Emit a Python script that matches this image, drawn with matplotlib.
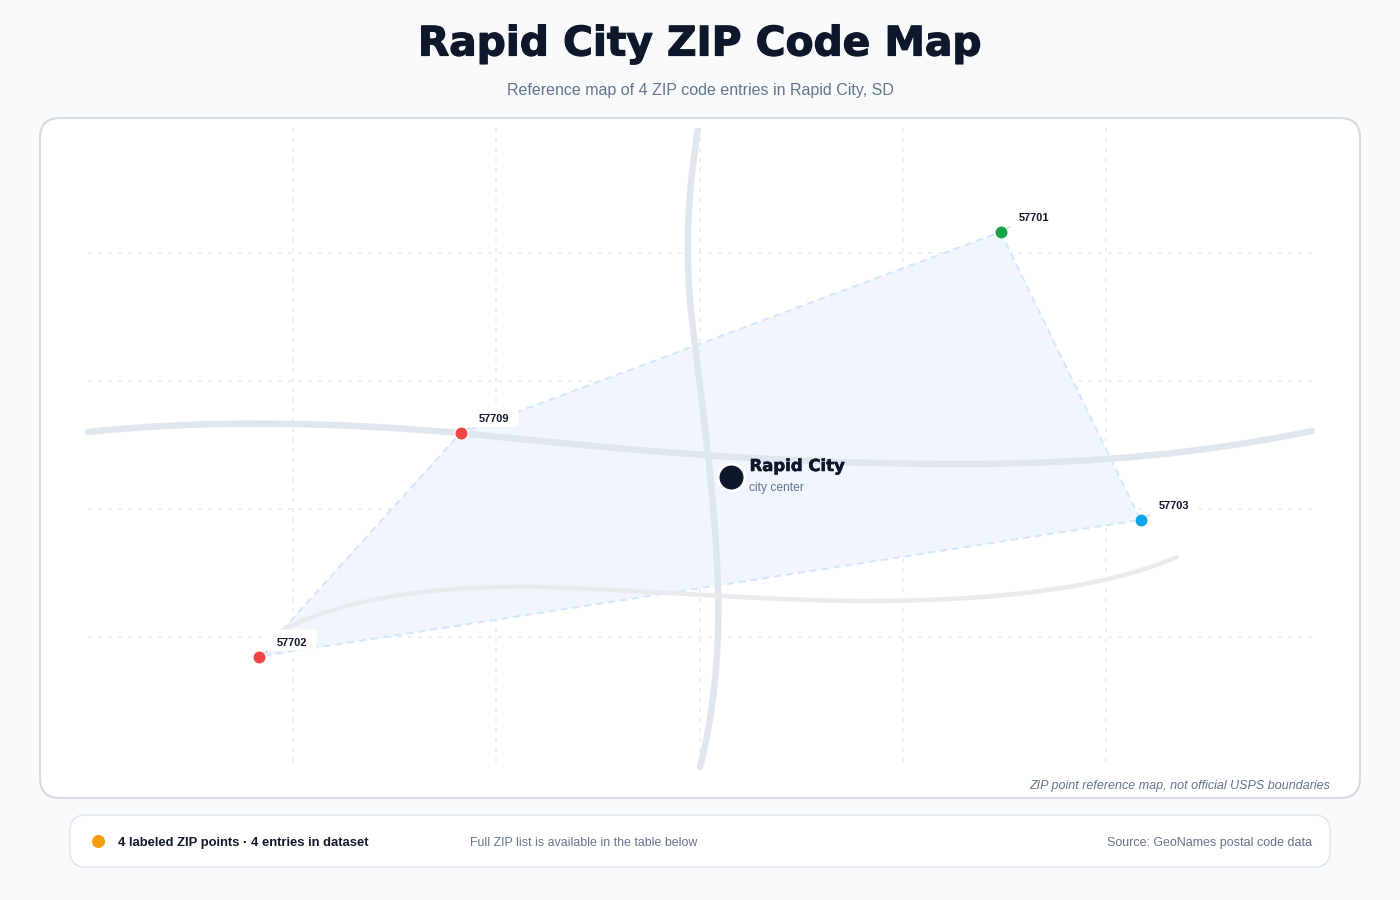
import matplotlib
matplotlib.use("Agg")
import matplotlib.pyplot as plt
import matplotlib.patheffects as pe
from matplotlib.patches import FancyBboxPatch, Polygon, PathPatch
from matplotlib.path import Path
from matplotlib.transforms import Bbox, TransformedBbox

# ZIP points (pixel position on the map)
zips = ["57701", "57703", "57702", "57709"]
zip_x = [1000.5, 1140.5, 258.5, 460.5]
zip_y = [232, 520, 656.5, 433]
zip_colors = ["#16a34a", "#0ea5e9", "#ef4444", "#ef4444"]

# Roads as bezier control points
road_main = [(88, 432), (200, 420), (330, 421), (470, 434), (600, 447), (760, 464),
             (960, 464), (1100, 464), (1210, 452), (1312, 431)]
road_north = [(699, 122), (688, 190), (684, 250), (692, 320), (700, 390), (716, 500),
              (718, 590), (720, 660), (712, 720), (700, 767)]
road_south = [(283, 630), (350, 595), (450, 585), (540, 587), (650, 590), (780, 602),
              (880, 601), (990, 600), (1100, 590), (1177, 557)]

grid_x = [293, 496, 700, 903, 1106]
grid_y = [253, 381, 509, 637]

title = "Rapid City ZIP Code Map"
subtitle = "Reference map of 4 ZIP code entries in Rapid City, SD"
center_xy = (731, 477)

plt.rcParams["font.family"] = ["Liberation Sans", "DejaVu Sans"]


def px(size):
    return size * 0.72


def road(ax, pts, color, width, z):
    codes = [Path.MOVETO] + [Path.CURVE4] * (len(pts) - 1)
    patch = PathPatch(Path(pts, codes), fill=False, edgecolor=color, linewidth=px(width),
                      capstyle="round", zorder=z)
    ax.add_patch(patch)
    return patch


fig = plt.figure(figsize=(14, 9), dpi=100, facecolor="#f8fafc")
ax = fig.add_axes([0, 0, 1, 1])
ax.set_xlim(0, 1400)
ax.set_ylim(900, 0)
ax.axis("off")

# Title
ax.text(700, 44.5, title, ha="center", va="center", fontsize=px(40.7), fontweight="bold",
        family="DejaVu Sans", color="#0f172a",
        path_effects=[pe.withStroke(linewidth=px(1.2), foreground="#0f172a")])
ax.text(700, 90, subtitle, ha="center", va="center", fontsize=px(16), color="#64748b")

# Map panel and footer
panel = FancyBboxPatch((40, 118), 1320, 680, boxstyle="round,pad=0,rounding_size=20",
                       facecolor="white", edgecolor="#d5dae3", linewidth=px(2), zorder=1)
ax.add_patch(panel)
ax.add_patch(FancyBboxPatch((70, 815), 1260, 52, boxstyle="round,pad=0,rounding_size=16",
                            facecolor="white", edgecolor="#e2e8f0", linewidth=px(1.5), zorder=1))

# Grid
for x in grid_x:
    ax.plot([x, x], [128, 767], color="#ebeff4", lw=px(2), dashes=(2, 3), zorder=2)
for y in grid_y:
    ax.plot([88, 1312], [y, y], color="#ebeff4", lw=px(2), dashes=(2, 3), zorder=2)

# ZIP polygon
ax.add_patch(Polygon(list(zip(zip_x, zip_y)), closed=True, facecolor="#f0f5fe", edgecolor="none",
                     alpha=0.9, zorder=3))
ax.add_patch(Polygon(list(zip(zip_x, zip_y)), closed=True, fill=False, edgecolor="#d3e5fc",
                     linewidth=px(2), linestyle=(0, (3.5, 2.5)), zorder=3))

# Roads
road(ax, road_main, "#dfe6ee", 6.5, 4)
north = road(ax, road_north, "#dfe6ee", 6.5, 4)
north.set_clip_box(TransformedBbox(Bbox([[0, 128], [1400, 900]]), ax.transData))
road(ax, road_south, "#e8eaee", 4.5, 4)

# Labels and points
for name, x, y, c in zip(zips, zip_x, zip_y, zip_colors):
    ax.add_patch(FancyBboxPatch((x + 6, y - 27), 52, 21, boxstyle="round,pad=0,rounding_size=4",
                                facecolor="white", edgecolor="none", zorder=5))
    ax.plot([x, x + 9], [y, y - 5], color="#b8c0cc", lw=px(1), zorder=6)
    ax.scatter([x], [y], s=px(13) ** 2, color=c, edgecolor="white", linewidth=px(1), zorder=7)
    ax.text(x + 18.5, y - 14, name, ha="left", va="center", fontsize=px(11), fontweight="bold",
            color="#0f172a", zorder=8)

# City center
ax.scatter([center_xy[0] - 0.5], [center_xy[1] - 0.5], s=px(27) ** 2, color="#0f172a",
           edgecolor="white", linewidth=px(3), zorder=7)
ax.text(749.5, 466, "Rapid City", ha="left", va="center", fontsize=px(16.5), fontweight="bold",
        family="DejaVu Sans", color="#0f172a", zorder=8,
        path_effects=[pe.withStroke(linewidth=px(0.6), foreground="#0f172a")])
ax.text(749, 488, "city center", ha="left", va="center", fontsize=px(12), color="#64748b", zorder=8)

# Notes
ax.text(1330.5, 785.5, "ZIP point reference map, not official USPS boundaries", ha="right", va="center",
        fontsize=px(12.5), style="italic", color="#64748b", zorder=8)
ax.scatter([98], [841], s=px(13) ** 2, color="#f59e0b", linewidth=0, zorder=8)
ax.text(118, 843, "4 labeled ZIP points · 4 entries in dataset", ha="left", va="center",
        fontsize=px(13), fontweight="bold", color="#0f172a", zorder=8)
ax.text(470, 843, "Full ZIP list is available in the table below", ha="left", va="center",
        fontsize=px(12.4), color="#64748b", zorder=8)
ax.text(1312, 843, "Source: GeoNames postal code data", ha="right", va="center",
        fontsize=px(12.5), color="#64748b", zorder=8)

fig.savefig("out.png", dpi=100, facecolor=fig.get_facecolor())
